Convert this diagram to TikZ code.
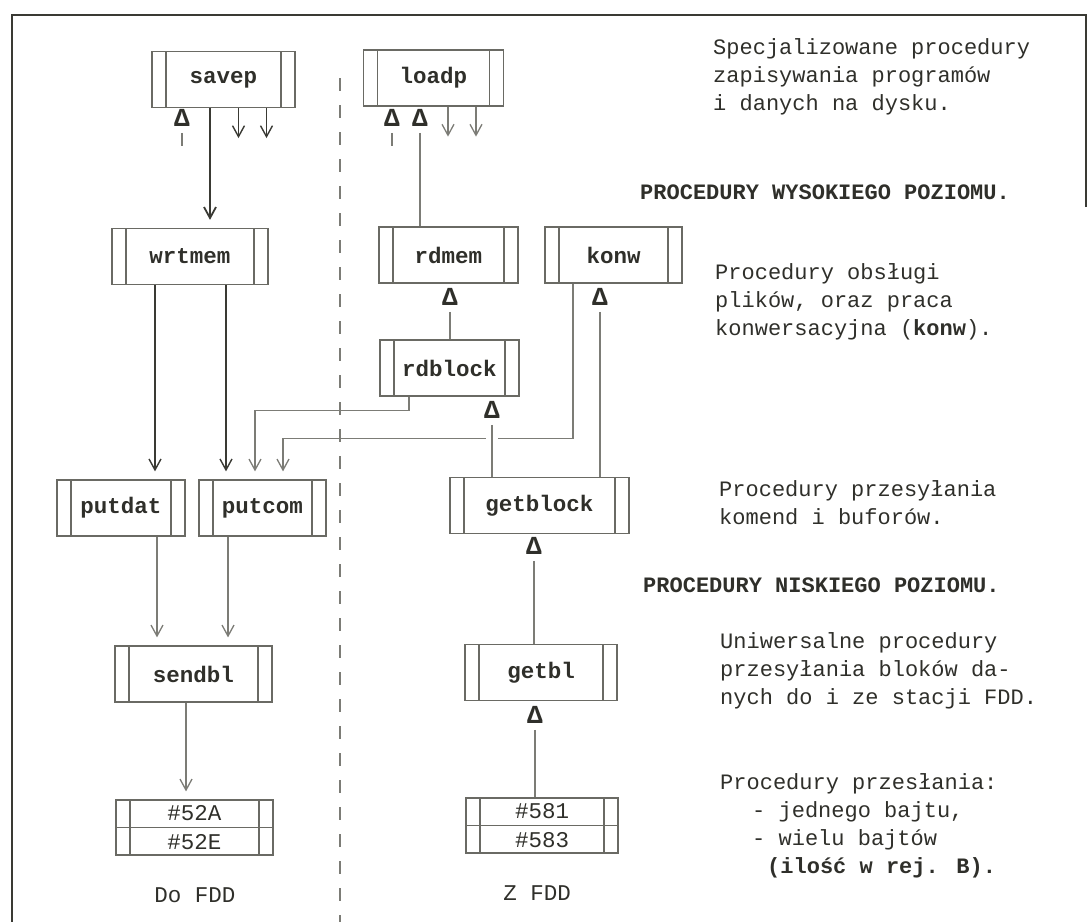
\documentclass[tikz,border=0pt]{standalone}
\usepackage{fontspec}
\newfontfamily\tw{Liberation Mono}
\usetikzlibrary{arrows.meta}
\definecolor{ink}{HTML}{2F2F2A}
\definecolor{boxc}{HTML}{6A6A64}
\definecolor{lnc}{HTML}{7C7C76}
\definecolor{dkc}{HTML}{3A3A34}
\tikzset{
  proc/.style={draw=boxc, line width=1.2pt, minimum height=56pt, inner sep=0pt,
    font=\tw\bfseries\fontsize{22.5}{28}\selectfont, text=ink,
    path picture={\draw[boxc, line width=1.2pt]
      ([xshift=14pt]path picture bounding box.north west) -- ([xshift=14pt]path picture bounding box.south west)
      ([xshift=-14pt]path picture bounding box.north east) -- ([xshift=-14pt]path picture bounding box.south east);}},
  arr/.style={dkc, line width=1.4pt, -{Straight Barb[length=11pt,width=12pt]}, shorten >=8pt},
  arrg/.style={arr, lnc, line width=1.3pt},
  lnk/.style={lnc, line width=1.3pt},
  tri/.style={font=\tw\bfseries\fontsize{26}{26}\selectfont, text=ink, inner sep=0pt},
  txt/.style={font=\tw\fontsize{22}{28}\selectfont, text=ink, align=left, anchor=base west, inner sep=0pt},
  hd/.style={txt, font=\tw\bfseries\fontsize{22}{28}\selectfont},
}
\begin{document}
\begin{tikzpicture}[x=1pt, y=-1pt]
  \useasboundingbox (0,0) rectangle (1087,922);
  % frame and the dividing line
  \draw[dkc, line width=2pt] (1086,207) -- (1086,15) -- (12,15) -- (12,922);
  \draw[lnc, line width=1.3pt, dash pattern=on 13pt off 14pt] (340,78) -- (340,922);

  % procedures
  \node[proc, minimum width=143pt] (savep) at (223.5,79.5) {savep};
  \node[proc, minimum width=140pt] (loadp) at (433.5,78) {loadp};
  \node[proc, minimum width=156pt] (wrtmem) at (190,256.5) {wrtmem};
  \node[proc, minimum width=139pt] (rdmem) at (448.5,255) {rdmem};
  \node[proc, minimum width=137pt] (konw) at (613.5,255) {konw};
  \node[proc, minimum width=139pt] (rdblock) at (449.5,368) {rdblock};
  \node[proc, minimum width=128pt] (putdat) at (121,508) {putdat};
  \node[proc, minimum width=127pt] (putcom) at (262.5,508) {putcom};
  \node[proc, minimum width=179pt] (getblock) at (539.5,505.5) {getblock};
  \node[proc, minimum width=157pt] (sendbl) at (193.5,674) {sendbl};
  \node[proc, minimum width=152pt] (getbl) at (541,672.5) {getbl};

  % system entries
  \node[proc, minimum width=157pt, minimum height=55pt] (out) at (194.5,827.5) {};
  \node[proc, minimum width=152pt, minimum height=55pt] (in) at (542,825.5) {};
  \draw[boxc, line width=1.2pt] (out.west) -- (out.east);
  \draw[boxc, line width=1.2pt] (in.west) -- (in.east);
  \node[font=\tw\fontsize{22.5}{28}\selectfont, text=ink] (outa) at ([yshift=-13.75pt]out.north) {\#52A};
  \node[font=\tw\fontsize{22.5}{28}\selectfont, text=ink] (outb) at ([yshift=13.75pt]out.south) {\#52E};
  \node[font=\tw\fontsize{22.5}{28}\selectfont, text=ink] (ina) at ([yshift=-13.75pt]in.north) {\#581};
  \node[font=\tw\fontsize{22.5}{28}\selectfont, text=ink] (inb) at ([yshift=13.75pt]in.south) {\#583};
  \node[font=\tw\fontsize{22.5}{28}\selectfont, text=ink] (tdo) at (195,895) {Do FDD};
  \node[font=\tw\fontsize{22.5}{28}\selectfont, text=ink] (tz) at (537,893) {Z FDD};

  % triangles
  \node[tri] (dsave) at (182,118) {Δ};
  \node[tri] (dload1) at (392,118) {Δ};
  \node[tri] (dload2) at (420,118) {Δ};
  \node[tri] (drdmem) at (450,297) {Δ};
  \node[tri] (dkonw) at (600,297) {Δ};
  \node[tri] (drdblk) at (492,410) {Δ};
  \node[tri] (dgetblk) at (534,546) {Δ};
  \node[tri] (dgetbl) at (535,715) {Δ};

  \coordinate (sv1) at ([xshift=-13.5pt]savep.south);
  \coordinate (sv2) at ([xshift=15pt]savep.south);
  \coordinate (sv3) at ([xshift=43pt]savep.south);
  \coordinate (ld1) at ([xshift=14.5pt]loadp.south);
  \coordinate (ld2) at ([xshift=42.5pt]loadp.south);
  \coordinate (wm1) at ([xshift=-35pt]wrtmem.south);
  \coordinate (wm2) at ([xshift=36pt]wrtmem.south);
  \coordinate (pd1) at ([xshift=36pt]putdat.south);
  \coordinate (pc1) at ([xshift=-34.5pt]putcom.south);
  \coordinate (pc2) at ([xshift=-7.5pt]putcom.north);
  \coordinate (pc3) at ([xshift=20.5pt]putcom.north);
  \coordinate (sb1) at ([xshift=-7.5pt]sendbl.south);
  \coordinate (rb1) at ([xshift=-40.5pt]rdblock.south);
  \coordinate (kw1) at ([xshift=-40.5pt]konw.south);

  % writing side
  \draw[arr, line width=1.8pt] (sv1) -- (sv1 |- wrtmem.north);
  \draw[arr] (sv2) -- ++(0,38);
  \draw[arr] (sv3) -- ++(0,38);
  \draw[lnk] ([yshift=-6pt]dsave.south) -- ++(0,13);
  \draw[arr] (wm1) -- (wm1 |- putdat.north);
  \draw[arr] (wm2) -- (wm2 |- putcom.north);
  \draw[arrg] (rb1) -- ++(0,14) -| (pc2);
  \draw[arrg] (kw1) -- ++(0,155) -| (pc3);
  \draw[arrg] (pd1) -- (pd1 |- sendbl.north);
  \draw[arrg] (pc1) -- (pc1 |- sendbl.north);
  \draw[arrg] (sb1) -- (sb1 |- out.north);

  % reading side
  \draw[arrg] (ld1) -- ++(0,38);
  \draw[arrg] (ld2) -- ++(0,38);
  \draw[lnk] ([yshift=-6pt]dload1.south) -- ++(0,13);
  \draw[lnk] ([yshift=-6pt]dload2.south) -- (dload2 |- rdmem.north);
  \draw[lnk] ([yshift=-6pt]drdmem.south) -- (drdmem |- rdblock.north);
  \draw[lnk, preaction={draw=white, line width=12pt, shorten >=4pt}] ([yshift=-6pt]drdblk.south) -- (drdblk |- getblock.north);
  \draw[lnk] ([yshift=-6pt]dkonw.south) -- (dkonw |- getblock.north);
  \draw[lnk] ([yshift=-6pt]dgetblk.south) -- (dgetblk |- getbl.north);
  \draw[lnk] ([yshift=-6pt]dgetbl.south) -- (dgetbl |- in.north);

  % descriptions (base = last line)
  \node[txt] (tspec) at (713,110) {Specjalizowane procedury\\zapisywania programów\\i danych na dysku.};
  \node[hd] (hhigh) at (640,199.5) {PROCEDURY WYSOKIEGO POZIOMU.};
  \node[txt] (tfile) at (715,335) {Procedury obsługi\\plików, oraz praca\\konwersacyjna ({\bfseries konw}).};
  \node[txt] (tsend) at (719,524) {Procedury przesyłania\\komend i buforów.};
  \node[hd] (hlow) at (643,592) {PROCEDURY NISKIEGO POZIOMU.};
  \node[txt] (tuniv) at (720,704) {Uniwersalne procedury\\przesyłania bloków da-\\nych do i ze stacji FDD.};
  \node[txt] (tbyte) at (720,873) {Procedury przesłania:\\\hspace*{32pt}- jednego bajtu,\\\hspace*{32pt}- wielu bajtów\\\hspace*{47pt}{\bfseries (ilość w rej. B).}};
\end{tikzpicture}
\end{document}
